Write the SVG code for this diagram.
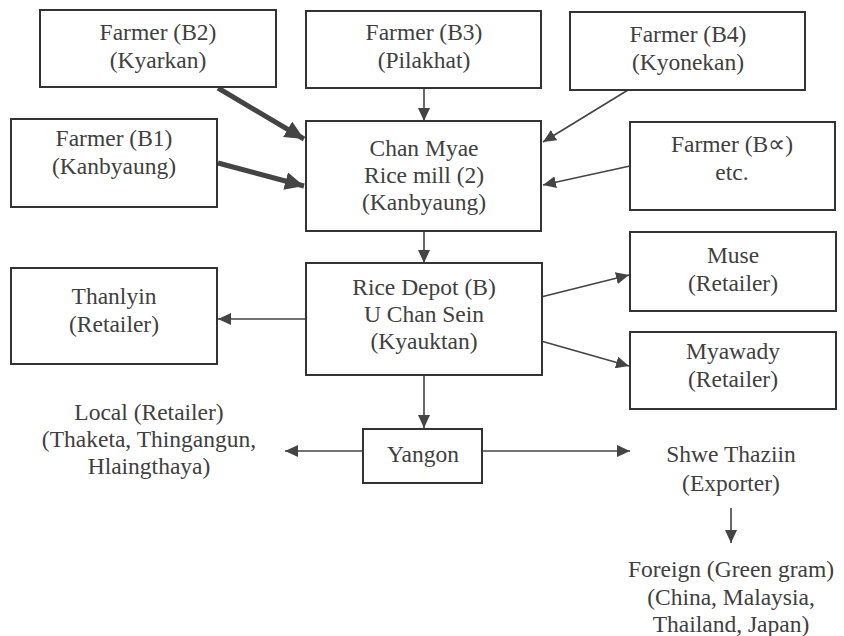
<svg xmlns="http://www.w3.org/2000/svg" width="844" height="636" viewBox="0 0 844 636">
<defs>
<style>
.box{fill:#fff;stroke:#333;stroke-width:2}
text{font-family:"Liberation Serif","Times New Roman",serif;font-size:23.5px;fill:#404040;text-anchor:middle}
.c{stroke:#444;stroke-width:1.6;fill:none}
.t{stroke:#444;stroke-width:5;fill:none}
</style>
<marker id="a" markerUnits="userSpaceOnUse" markerWidth="14" markerHeight="12" refX="13" refY="6" orient="auto"><path d="M0,0 L13,6 L0,12 Z" fill="#444"/></marker>
<marker id="ta" markerUnits="userSpaceOnUse" markerWidth="20" markerHeight="18" refX="19" refY="9" orient="auto"><path d="M0,0 L19,9 L0,18 Z" fill="#444"/></marker>
</defs>
<rect width="844" height="636" fill="#fff"/>
<g id="connectors">
<line class="t" x1="218" y1="88" x2="304" y2="139" marker-end="url(#ta)"/>
<line class="t" x1="218" y1="163" x2="304" y2="186" marker-end="url(#ta)"/>
<line class="c" x1="424" y1="88" x2="424" y2="121" marker-end="url(#a)"/>
<line class="c" x1="628" y1="90" x2="543" y2="142" marker-end="url(#a)"/>
<line class="c" x1="630" y1="166" x2="543" y2="185" marker-end="url(#a)"/>
<line class="c" x1="424" y1="232" x2="424" y2="263" marker-end="url(#a)"/>
<line class="c" x1="306" y1="319" x2="218" y2="319" marker-end="url(#a)"/>
<line class="c" x1="541" y1="297" x2="629" y2="275" marker-end="url(#a)"/>
<line class="c" x1="541" y1="341" x2="629" y2="366" marker-end="url(#a)"/>
<line class="c" x1="424" y1="376" x2="424" y2="428" marker-end="url(#a)"/>
<line class="c" x1="363" y1="451" x2="285" y2="451" marker-end="url(#a)"/>
<line class="c" x1="482" y1="451" x2="630" y2="451" marker-end="url(#a)"/>
<line class="c" x1="731" y1="508" x2="731" y2="543" marker-end="url(#a)"/>
</g>
<g id="b2"><rect class="box" x="40" y="10" width="236" height="77"/><text x="158" y="40">Farmer (B2)</text><text x="158" y="68">(Kyarkan)</text></g>
<g id="b3"><rect class="box" x="306" y="11" width="235" height="77"/><text x="424" y="40">Farmer (B3)</text><text x="424" y="68">(Pilakhat)</text></g>
<g id="b4"><rect class="box" x="570" y="12" width="235" height="78"/><text x="688" y="42">Farmer (B4)</text><text x="688" y="70">(Kyonekan)</text></g>
<g id="b1"><rect class="box" x="11" y="119" width="206" height="88"/><text x="114" y="146">Farmer (B1)</text><text x="114" y="174">(Kanbyaung)</text></g>
<g id="mill"><rect class="box" x="306" y="121" width="235" height="110"/><text x="424" y="156">Chan Myae</text><text x="424" y="183">Rice mill (2)</text><text x="424" y="210">(Kanbyaung)</text></g>
<g id="bx"><rect class="box" x="630" y="122" width="205" height="88"/><text x="732" y="152">Farmer (B∝)</text><text x="732" y="180">etc.</text></g>
<g id="depot"><rect class="box" x="306" y="263" width="236" height="112"/><text x="424" y="295">Rice Depot (B)</text><text x="424" y="322">U Chan Sein</text><text x="424" y="349">(Kyauktan)</text></g>
<g id="thanlyin"><rect class="box" x="11" y="268" width="206" height="96"/><text x="114" y="304">Thanlyin</text><text x="114" y="332">(Retailer)</text></g>
<g id="muse"><rect class="box" x="630" y="232" width="206" height="79"/><text x="733" y="263">Muse</text><text x="733" y="291">(Retailer)</text></g>
<g id="myawady"><rect class="box" x="630" y="332" width="206" height="77"/><text x="733" y="359">Myawady</text><text x="733" y="387">(Retailer)</text></g>
<g id="yangon"><rect class="box" x="363" y="429" width="119" height="54"/><text x="423" y="462">Yangon</text></g>
<g id="local"><text x="149" y="420">Local (Retailer)</text><text x="149" y="447">(Thaketa, Thingangun,</text><text x="149" y="474">Hlaingthaya)</text></g>
<g id="shwe"><text x="731" y="462">Shwe Thaziin</text><text x="731" y="491">(Exporter)</text></g>
<g id="foreign"><text x="731" y="577">Foreign (Green gram)</text><text x="731" y="605">(China, Malaysia,</text><text x="731" y="632">Thailand, Japan)</text></g>
</svg>
